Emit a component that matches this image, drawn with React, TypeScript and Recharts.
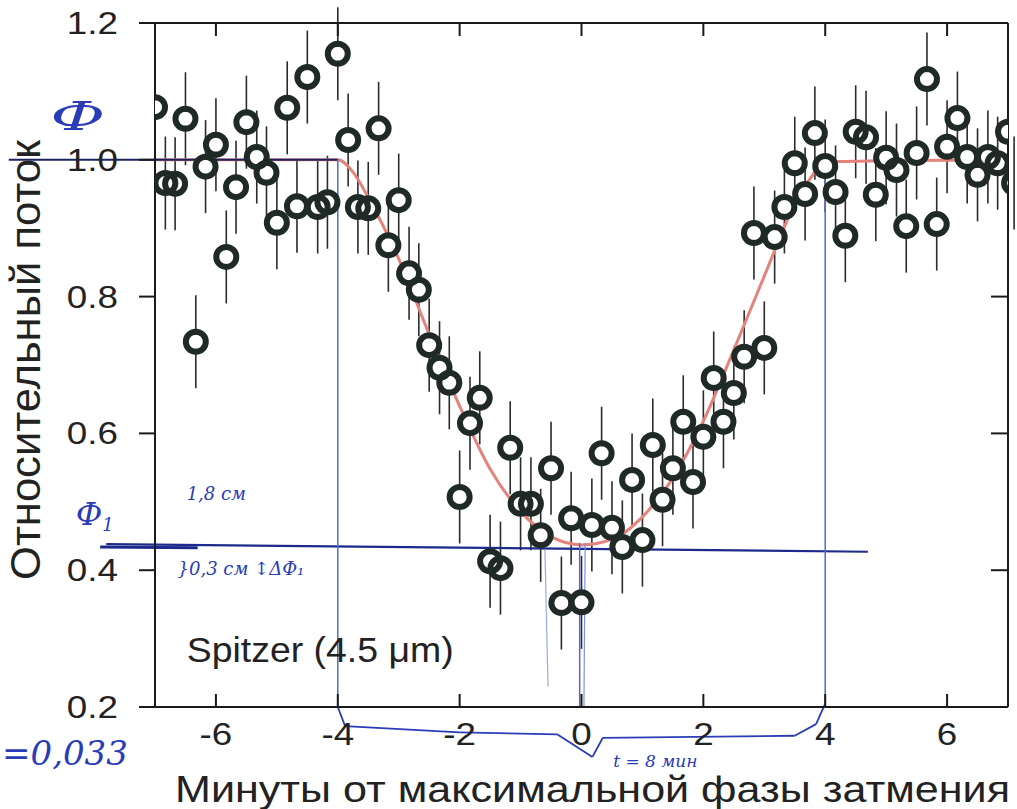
import React from "react";
import {
  ComposedChart,
  Scatter,
  Line,
  XAxis,
  YAxis,
  ErrorBar,
  ReferenceLine,
  ReferenceDot,
} from "recharts";

// minutes from mid-eclipse (~10 s cadence)
const timeMin = [
  -7.0, -6.83, -6.67, -6.5, -6.33, -6.17, -6.0, -5.83, -5.67, -5.5, -5.33, -5.17, -5.0,
  -4.83, -4.67, -4.5, -4.33, -4.17, -4.0, -3.83, -3.67, -3.5, -3.33, -3.17, -3.0, -2.83,
  -2.67, -2.5, -2.33, -2.17, -2.0, -1.83, -1.67, -1.5, -1.33, -1.17, -1.0, -0.83, -0.67,
  -0.5, -0.33, -0.17, 0.0, 0.17, 0.33, 0.5, 0.67, 0.83, 1.0, 1.17, 1.33, 1.5, 1.67, 1.83,
  2.0, 2.17, 2.33, 2.5, 2.67, 2.83, 3.0, 3.17, 3.33, 3.5, 3.67, 3.83, 4.0, 4.17, 4.33, 4.5,
  4.67, 4.83, 5.0, 5.17, 5.33, 5.5, 5.67, 5.83, 6.0, 6.17, 6.33, 6.5, 6.67, 6.83, 7.0, 7.1,
];
const relFlux = [
  1.077, 0.966, 0.965, 1.06, 0.734, 0.99, 1.022, 0.858, 0.96, 1.055, 1.004, 0.981, 0.908,
  1.076, 0.932, 1.121, 0.931, 0.938, 1.155, 1.029, 0.931, 0.929, 1.046, 0.875, 0.941, 0.834,
  0.81, 0.729, 0.696, 0.674, 0.507, 0.615, 0.652, 0.413, 0.403, 0.579, 0.497, 0.497, 0.451,
  0.549, 0.352, 0.476, 0.353, 0.466, 0.571, 0.462, 0.434, 0.532, 0.444, 0.583, 0.503, 0.549,
  0.617, 0.529, 0.595, 0.681, 0.617, 0.659, 0.712, 0.893, 0.725, 0.887, 0.931, 0.995, 0.95,
  1.039, 0.991, 0.953, 0.889, 1.041, 1.033, 0.949, 1.003, 0.985, 0.903, 1.01, 1.118, 0.906,
  1.019, 1.061, 1.004, 0.978, 1.004, 0.995, 1.041, 0.966,
];
const FLUX_ERR = 0.068;

// fitted eclipse model (red curve)
const modelTime = [-7, -4, -3.75, -3.5, -3, -2.5, -2, -1.5, -1, -0.5, 0, 0.5, 1, 1.5, 2, 2.5, 3, 3.5, 3.75, 4, 7];
const modelFlux = [1.0, 1.0, 0.982, 0.945, 0.855, 0.745, 0.64, 0.548, 0.486, 0.449, 0.437, 0.445, 0.478, 0.535, 0.618, 0.722, 0.83, 0.935, 0.972, 0.997, 1.0];

const xTicks = [-6, -4, -2, 0, 2, 4, 6];
const yTicks = [0.2, 0.4, 0.6, 0.8, 1.0, 1.2];

// hand-drawn braces under the axis (pen marks on the scan)
const braceLeft = [
  { x: -4.0, y: 0.2 }, { x: -3.88, y: 0.172 }, { x: -2.0, y: 0.163 },
  { x: -0.4, y: 0.16 }, { x: 0.18, y: 0.127 },
];
const braceRight = [
  { x: 0.18, y: 0.127 }, { x: 0.35, y: 0.155 }, { x: 3.5, y: 0.158 },
  { x: 3.85, y: 0.175 }, { x: 4.0, y: 0.205 },
];

const points = timeMin.map((t, i) => ({ t, flux: relFlux[i], err: FLUX_ERR }));
const model = modelTime.map((t, i) => ({ t, flux: modelFlux[i] }));

const INK = "#1f2a27";
const PEN = "#2a3cb8";
const FONT = "'Liberation Sans', Arial, Helvetica, sans-serif";
const HAND = "'DejaVu Serif', serif";

const XTick = (p: any) => (
  <g transform={`translate(${p.x},${p.y + 23})`}>
    <text textAnchor="middle" fontSize={32} fontFamily={FONT} fill="#222" transform="scale(1.15,1)">
      {p.payload.value}
    </text>
  </g>
);

const YTick = (p: any) => (
  <g transform={`translate(${p.x},${p.y + 11})`}>
    <text textAnchor="end" fontSize={32} fontFamily={FONT} fill="#222" transform="scale(1.15,1)">
      {Number(p.payload.value).toFixed(1)}
    </text>
  </g>
);

const NoLabel = () => <g />;

const Hole = (p: any) => <circle cx={p.cx} cy={p.cy} r={7} fill="#fff" />;
const Ring = (p: any) => (
  <circle cx={p.cx} cy={p.cy} r={10} fill="none" stroke={INK} strokeWidth={6} />
);
const Nothing = () => null;

const note =
  (text: React.ReactNode, size: number, color = PEN, family = HAND, len?: number) =>
  (props: any) => {
    const vb = props.viewBox || {};
    return (
      <text
        x={vb.x}
        y={vb.y}
        fontSize={size}
        fontFamily={family}
        fontStyle={family === HAND ? "italic" : "normal"}
        fill={color}
        textLength={len}
        lengthAdjust={len ? "spacingAndGlyphs" : undefined}
      >
        {text}
      </text>
    );
  };

const penPath = (pts: { x: number; y: number }[], key: string) =>
  pts.slice(1).map((p, i) => (
    <ReferenceLine
      key={`${key}-${i}`}
      segment={[pts[i], p]}
      stroke={PEN}
      strokeWidth={1.8}
      ifOverflow="visible"
    />
  ));

export default function App() {
  return (
    <div style={{ position: "absolute", left: 0, top: 0, background: "#fff" }}>
      <ComposedChart width={1017} height={809} margin={{ top: 22, right: 8, bottom: 0, left: 0 }}>
        <XAxis
          dataKey="t"
          type="number"
          domain={[-7, 7]}
          ticks={xTicks}
          allowDataOverflow
          height={102}
          tickSize={-13}
          tickMargin={28}
          tick={XTick}
          stroke="#1a1a1a"
          strokeWidth={2}
          label={(props: any) => {
            const vb = props.viewBox;
            return (
              <text
                x={vb.x + 20}
                y={vb.y + vb.height - 7}
                fontSize={37}
                fontFamily={FONT}
                fill="#222"
                textLength={835}
                lengthAdjust="spacingAndGlyphs"
              >
                Минуты от максимальной фазы затмения
              </text>
            );
          }}
        />
        <XAxis
          xAxisId="top"
          orientation="top"
          dataKey="t"
          type="number"
          domain={[-7, 7]}
          ticks={xTicks}
          allowDataOverflow
          height={1}
          tickSize={-13}
          tick={NoLabel}
          stroke="#1a1a1a"
          strokeWidth={2}
        />
        <YAxis
          type="number"
          domain={[0.2, 1.2]}
          ticks={yTicks}
          allowDataOverflow
          width={155}
          tickSize={16}
          tickMargin={21}
          tick={YTick}
          stroke="#1a1a1a"
          strokeWidth={2}
          label={(props: any) => {
            const vb = props.viewBox;
            return (
              <text
                transform={`translate(${vb.x + 40},360) rotate(-90)`}
                textAnchor="middle"
                fontSize={42}
                fontFamily={FONT}
                fill="#222"
                textLength={440}
                lengthAdjust="spacingAndGlyphs"
              >
                Относительный поток
              </text>
            );
          }}
        />
        <YAxis
          yAxisId="right"
          orientation="right"
          type="number"
          domain={[0.2, 1.2]}
          ticks={yTicks}
          allowDataOverflow
          width={1}
          tickSize={-17}
          tick={NoLabel}
          stroke="#1a1a1a"
          strokeWidth={2}
        />

        {/* invisible series so the top and right frame axes get drawn */}
        <Scatter data={points} dataKey="flux" xAxisId="top" yAxisId="right" shape={Nothing} isAnimationActive={false} />

        <Scatter data={points} dataKey="flux" shape={Hole} isAnimationActive={false}>
          <ErrorBar dataKey="err" direction="y" width={0} stroke="#2b2b2b" strokeWidth={1.6} isAnimationActive={false} />
        </Scatter>
        <Scatter data={points} dataKey="flux" shape={Ring} isAnimationActive={false} />
        <Line
          data={model}
          dataKey="flux"
          type="monotone"
          stroke="#e4827c"
          strokeWidth={3}
          dot={false}
          isAnimationActive={false}
        />

        {/* pen marks on the scan */}
        <ReferenceLine segment={[{ x: -9.4, y: 1.0 }, { x: -4, y: 1.0 }]} stroke="#1b2260" strokeWidth={2} ifOverflow="visible" />
        <ReferenceLine segment={[{ x: -7.8, y: 0.438 }, { x: 4.7, y: 0.427 }]} stroke="#1b2a8c" strokeWidth={2.2} ifOverflow="visible" />
        <ReferenceLine segment={[{ x: -7.9, y: 0.434 }, { x: -6.3, y: 0.433 }]} stroke="#1b2a8c" strokeWidth={3} ifOverflow="visible" />
        <ReferenceLine segment={[{ x: -4, y: 1.0 }, { x: -4, y: 0.2 }]} stroke="#4f6ad6" strokeWidth={1.5} ifOverflow="visible" />
        <ReferenceLine segment={[{ x: 4, y: 1.0 }, { x: 4, y: 0.2 }]} stroke="#4f6ad6" strokeWidth={1.5} ifOverflow="visible" />
        <ReferenceLine segment={[{ x: -0.03, y: 0.44 }, { x: -0.03, y: 0.2 }]} stroke="#4f6ad6" strokeWidth={1.5} ifOverflow="visible" />
        <ReferenceLine segment={[{ x: 0.06, y: 0.44 }, { x: 0.04, y: 0.2 }]} stroke="#7f93e0" strokeWidth={1.2} ifOverflow="visible" />
        <ReferenceLine segment={[{ x: -0.6, y: 0.43 }, { x: -0.55, y: 0.23 }]} stroke="#9aaae6" strokeWidth={1.2} ifOverflow="visible" />
        {penPath(braceLeft, "bl")}
        {penPath(braceRight, "br")}

        <ReferenceDot x={-6.48} y={0.266} r={0} ifOverflow="visible" label={note("Spitzer (4.5 μm)", 35, "#222", FONT, 267)} />
        <ReferenceDot x={-8.72} y={1.044} r={0} ifOverflow="visible" label={note("Ф", 40, PEN, HAND, 55)} />
        <ReferenceDot x={-8.3} y={0.466} r={0} ifOverflow="visible" label={note(<>Ф<tspan fontSize={18} dy={6}>1</tspan></>, 32)} />
        <ReferenceDot x={-6.48} y={0.503} r={0} ifOverflow="visible" label={note("1,8 см", 18)} />
        <ReferenceDot x={-6.63} y={0.393} r={0} ifOverflow="visible" label={note("}0,3 см ↕ΔФ₁", 18)} />
        <ReferenceDot x={-9.51} y={0.115} r={0} ifOverflow="visible" label={note("=0,033", 34)} />
        <ReferenceDot x={0.52} y={0.112} r={0} ifOverflow="visible" label={note("t = 8 мин", 17)} />
      </ComposedChart>
    </div>
  );
}
